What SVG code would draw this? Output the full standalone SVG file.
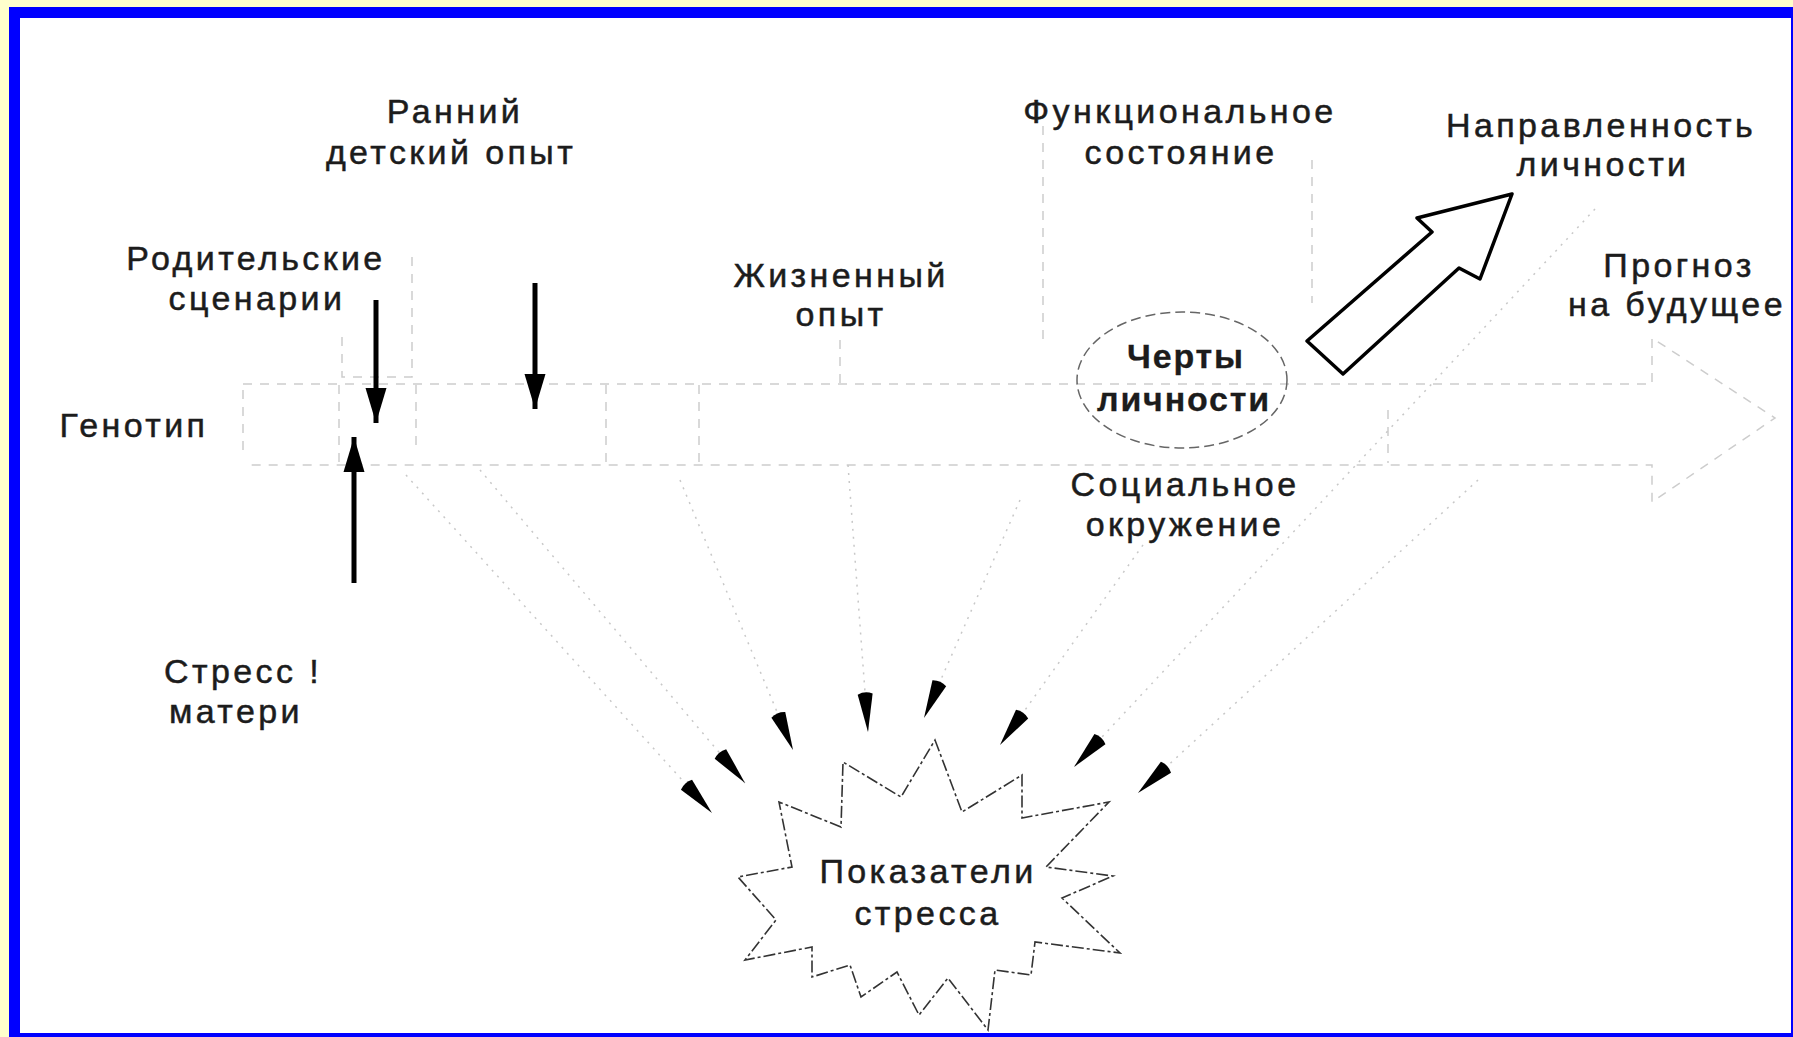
<svg xmlns="http://www.w3.org/2000/svg" width="1793" height="1037" viewBox="0 0 1793 1037">
  <style>
    .lbl { font-family: "Liberation Sans", Arial, sans-serif; font-size: 34px; fill: #1c1c1c; stroke: #1c1c1c; stroke-width: 0.5px; letter-spacing: 3.4px; text-anchor: middle; }
    .bold { font-weight: bold; letter-spacing: 1.8px; stroke-width: 0.3px; }
    .faint { fill: none; stroke: #cdcdcd; stroke-width: 1.5; stroke-dasharray: 9 8; }
    .ray { fill: none; stroke: #c8c8c8; stroke-width: 1.5; stroke-dasharray: 2 6; }
    .thick { stroke: #000; stroke-width: 5; fill: none; }
  </style>
  <defs>
    <marker id="head" markerUnits="userSpaceOnUse" viewBox="-36 -12 38 24" refX="0" refY="0" markerWidth="38" markerHeight="24" orient="auto">
      <path d="M0,0 L-35,-10.5 L-35,10.5 Z" fill="#000"/>
    </marker>
    <marker id="dart" markerUnits="userSpaceOnUse" viewBox="-42 -9 44 18" refX="0" refY="0" markerWidth="44" markerHeight="18" orient="auto">
      <path d="M0,0 L-38,-7.5 Q-41.5,0 -38,7.5 Z" fill="#000"/>
    </marker>
  </defs>

  <!-- page frame -->
  <rect x="0" y="0" width="1793" height="1037" fill="#ffffcc"/>
  <rect x="9" y="7" width="1784" height="1030" fill="#0000ff"/>
  <rect x="20" y="18" width="1771" height="1015" fill="#ffffff"/>

  <!-- faint background outlines of the broad flow arrows -->
  <g id="flow-outlines">
    <polyline class="faint" points="243,384 1652,384 1652,338 1775,418 1652,502 1652,465 250,465"/>
    <line class="faint" x1="243" y1="390" x2="243" y2="453"/>
    <line class="faint" x1="339" y1="385" x2="339" y2="463"/>
    <line class="faint" x1="416" y1="385" x2="416" y2="453"/>
    <line class="faint" x1="606" y1="385" x2="606" y2="463"/>
    <line class="faint" x1="699" y1="385" x2="699" y2="463"/>
    <line class="faint" x1="1388" y1="410" x2="1388" y2="463"/>
    <polyline class="faint" points="342,337 342,377 412,377 412,257"/>
    <line class="faint" x1="1043" y1="126" x2="1043" y2="343"/>
    <line class="faint" x1="1312" y1="160" x2="1312" y2="303"/>
    <line class="faint" x1="840" y1="340" x2="840" y2="384"/>
  </g>

  <!-- dotted rays ending in darts around the stress burst -->
  <g id="connectors">
    <line class="ray" x1="406" y1="475" x2="712" y2="813" marker-end="url(#dart)"/>
    <line class="ray" x1="480" y1="470" x2="745" y2="783" marker-end="url(#dart)"/>
    <line class="ray" x1="680" y1="480" x2="793" y2="750" marker-end="url(#dart)"/>
    <line class="ray" x1="848" y1="465" x2="868" y2="732" marker-end="url(#dart)"/>
    <line class="ray" x1="1020" y1="500" x2="924" y2="718" marker-end="url(#dart)"/>
    <line class="ray" x1="1143" y1="545" x2="1000" y2="745" marker-end="url(#dart)"/>
    <line class="ray" x1="1595" y1="209" x2="1074" y2="767" marker-end="url(#dart)"/>
    <line class="ray" x1="1478" y1="480" x2="1138" y2="793" marker-end="url(#dart)"/>

    <line class="thick" x1="376" y1="300" x2="376" y2="423" marker-end="url(#head)"/>
    <line class="thick" x1="535" y1="283" x2="535" y2="409" marker-end="url(#head)"/>
    <line class="thick" x1="354" y1="583" x2="354" y2="437" marker-end="url(#head)"/>

    <polygon id="direction-arrow" points="1512,194 1417,218 1432,232 1307,341 1343,374 1459,268 1480,279" fill="#fff" stroke="#000" stroke-width="3.5" stroke-linejoin="round"/>
  </g>

  <g id="early-experience"><text class="lbl" x="455" y="123">Ранний</text><text class="lbl" x="451" y="164">детский опыт</text></g>
  <g id="parental-scripts"><text class="lbl" x="256" y="270">Родительские</text><text class="lbl" x="257" y="310">сценарии</text></g>
  <g id="genotype"><text class="lbl" x="134" y="437">Генотип</text></g>
  <g id="maternal-stress"><text class="lbl" x="243" y="683">Стресс !</text><text class="lbl" x="236" y="723">матери</text></g>
  <g id="life-experience"><text class="lbl" x="841" y="287">Жизненный</text><text class="lbl" x="841" y="326">опыт</text></g>
  <g id="functional-state"><text class="lbl" x="1180" y="123">Функциональное</text><text class="lbl" x="1181" y="164">состояние</text></g>
  <g id="orientation"><text class="lbl" x="1601" y="137">Направленность</text><text class="lbl" x="1603" y="176">личности</text></g>
  <g id="forecast"><text class="lbl" x="1679" y="277">Прогноз</text><text class="lbl" x="1677" y="316">на будущее</text></g>
  <g id="traits">
    <ellipse cx="1182" cy="380" rx="105" ry="68" fill="none" stroke="#666" stroke-width="1.5" stroke-dasharray="10 5"/>
    <text class="lbl bold" x="1186" y="368">Черты</text><text class="lbl bold" x="1184" y="411">личности</text>
  </g>
  <g id="social-environment"><text class="lbl" x="1185" y="496">Социальное</text><text class="lbl" x="1185" y="536">окружение</text></g>
  <g id="stress-indicators">
    <polygon points="935,740 962,812 1022,775 1022,818 1109,802 1046,867 1113,876 1062,898 1120,953 1035,942 1031,975 995,970 988,1030 948,978 919,1015 897,972 861,997 850,965 812,977 812,947 745,960 776,920 738,877 792,867 779,802 841,827 843,762 901,797" fill="none" stroke="#333" stroke-width="1.6" stroke-dasharray="12 3 3 3"/>
    <text class="lbl" x="928" y="883">Показатели</text><text class="lbl" x="928" y="925">стресса</text>
  </g>
</svg>
